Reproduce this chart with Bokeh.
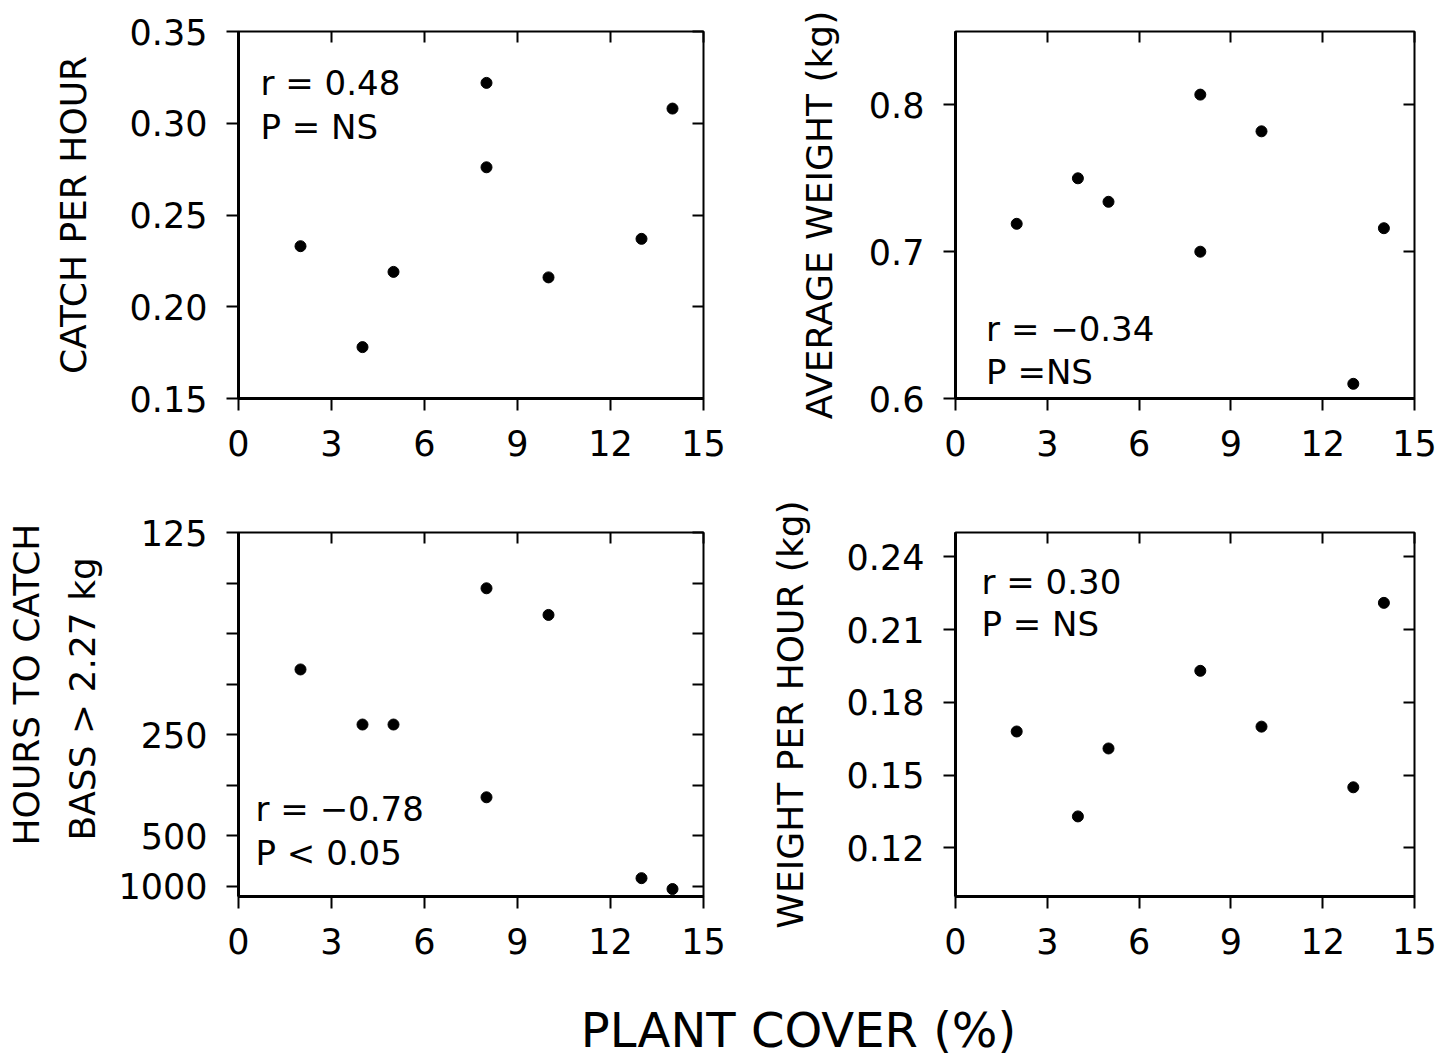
from bokeh.plotting import figure
from bokeh.models import FixedTicker, LinearAxis, Label, Range1d, NumeralTickFormatter, Title
from bokeh.layouts import column, row
from bokeh.embed import file_html
from bokeh.resources import INLINE

# ---- data ----
plant_cover = [2, 4, 5, 8, 8, 10, 13, 14]
catch_per_hour = [0.233, 0.178, 0.219, 0.322, 0.276, 0.216, 0.237, 0.308]
avg_weight_kg = [0.719, 0.750, 0.734, 0.807, 0.700, 0.782, 0.610, 0.716]
hours_to_catch = [189, 238, 238, 145, 362, 157, 860, 1055]
plant_cover_w = [2, 4, 5, 8, 10, 13, 14]
weight_per_hour = [0.168, 0.133, 0.161, 0.193, 0.170, 0.145, 0.221]

x_ticks = [0, 3, 6, 9, 12, 15]
catch_ticks = [0.15, 0.20, 0.25, 0.30, 0.35]
weight_ticks = [0.6, 0.7, 0.8]
wph_ticks = [0.12, 0.15, 0.18, 0.21, 0.24]
hours_tick_values = [125, 250, 500, 1000]

FONT = "DejaVu Sans"
TICK_FS = "35px"
LAB_FS = "36px"
ANN_FS = "34px"


def panel(width, height, bl, bt, br, bb, y_range, y_ticks, y_fmt=None, y_over=None,
          y_label="", label_standoff=26):
    p = figure(width=width, height=height, output_backend="svg", toolbar_location=None,
               x_range=Range1d(0, 15), y_range=Range1d(*y_range),
               min_border_left=bl, min_border_top=bt, min_border_right=br,
               min_border_bottom=bb)
    p.xgrid.visible = False
    p.ygrid.visible = False
    p.outline_line_color = "black"
    p.outline_line_width = 2
    p.background_fill_color = "white"
    p.border_fill_color = "white"

    xa = p.below[0]
    ya = p.left[0]
    xa.ticker = FixedTicker(ticks=x_ticks)
    xa.formatter = NumeralTickFormatter(format="0")
    ya.ticker = FixedTicker(ticks=y_ticks)
    if y_fmt is not None:
        ya.formatter = NumeralTickFormatter(format=y_fmt)
    if y_over is not None:
        ya.major_label_overrides = y_over
    for ax in (xa, ya):
        ax.axis_line_color = "black"
        ax.axis_line_width = 3
        ax.major_tick_line_color = "black"
        ax.major_tick_line_width = 2
        ax.major_tick_in = 0
        ax.major_tick_out = 12
        ax.minor_tick_line_color = None
        ax.major_label_text_font = FONT
        ax.major_label_text_font_size = TICK_FS
        ax.major_label_text_color = "black"
        ax.major_label_standoff = 19
        ax.axis_label_text_font = FONT
        ax.axis_label_text_font_size = LAB_FS
        ax.axis_label_text_font_style = "normal"
        ax.axis_label_text_color = "black"
    if y_label:
        ya.axis_label = y_label
        ya.axis_label_standoff = label_standoff

    top = LinearAxis(ticker=FixedTicker(ticks=x_ticks))
    right = LinearAxis(ticker=FixedTicker(ticks=y_ticks))
    for ax in (top, right):
        ax.axis_line_color = None
        ax.major_tick_line_color = "black"
        ax.major_tick_line_width = 2
        ax.major_tick_in = 11
        ax.major_tick_out = 0
        ax.minor_tick_line_color = None
        ax.major_label_text_font_size = "1px"
        ax.major_label_text_color = None
        ax.major_label_standoff = 0
    p.add_layout(top, "above")
    p.add_layout(right, "right")
    return p


def ann(p, x, y, text):
    p.add_layout(Label(x=x, y=y, text=text, text_font=FONT, text_font_size=ANN_FS,
                       text_align="left", text_baseline="alphabetic", text_color="black"))


# ---- top-left: catch per hour ----
pA = panel(740, 470, 238, 29, 37, 72, (0.15, 0.35), catch_ticks, y_fmt="0.00",
           y_label="CATCH PER HOUR", label_standoff=33)
pA.scatter(plant_cover, catch_per_hour, size=11, color="black")
ann(pA, 0.71, 0.3218, "r = 0.48")
ann(pA, 0.71, 0.298, "P = NS")

# ---- top-right: average weight ----
pB = panel(714, 470, 215, 31, 40, 70, (0.6, 0.85), weight_ticks, y_fmt="0.0",
           y_label="AVERAGE WEIGHT (kg)", label_standoff=26)
pB.scatter(plant_cover, avg_weight_kg, size=11, color="black")
ann(pB, 1.0, 0.6475, "r = \u22120.34")
ann(pB, 1.0, 0.6183, "P =NS")

# ---- bottom-left: hours to catch (reciprocal scale: catches per 1000 h) ----
rate_ticks = [1, 2, 3, 4, 5, 6, 7, 8]
overrides = {t: "" for t in rate_ticks}
for h in hours_tick_values:
    overrides[int(round(1000 / h))] = str(h)
pC = panel(740, 505, 238, 62, 37, 73, (0.8, 8.0), rate_ticks, y_over=overrides)
rate = [1000.0 / h for h in hours_to_catch]
pC.scatter(plant_cover, rate, size=11, color="black")
ann(pC, 0.55, 2.526, "r = \u22120.78")
ann(pC, 0.55, 1.668, "P < 0.05")
# two-line y label (side titles, read bottom to top)
pC.add_layout(Title(text="BASS > 2.27 kg", align="left", offset=56, standoff=26,
                    text_font=FONT, text_font_size=LAB_FS, text_font_style="normal",
                    text_color="black"), "left")
pC.add_layout(Title(text="HOURS TO CATCH", align="left", offset=51, standoff=0,
                    text_font=FONT, text_font_size=LAB_FS, text_font_style="normal",
                    text_color="black"), "left")

# ---- bottom-right: weight per hour ----
pD = panel(714, 505, 215, 55, 40, 79, (0.10, 0.25), wph_ticks, y_fmt="0.00",
           y_label="WEIGHT PER HOUR (kg)", label_standoff=33)
pD.scatter(plant_cover_w, weight_per_hour, size=11, color="black")
ann(pD, 0.85, 0.2298, "r = 0.30")
ann(pD, 0.85, 0.2124, "P = NS")

# ---- common x label ----
pE = figure(width=1454, height=83, output_backend="svg", toolbar_location=None,
            x_range=Range1d(0, 1454), y_range=Range1d(0, 83),
            x_axis_location=None, y_axis_location=None, min_border=0)
pE.xgrid.visible = False
pE.ygrid.visible = False
pE.outline_line_color = None
pE.add_layout(Label(x=798, y=29, text="PLANT COVER (%)", text_font=FONT,
                    text_font_size="48px", text_align="center", text_baseline="middle",
                    text_color="black"))

layout = column(row(pA, pB), row(pC, pD), pE)
open("out.html", "w").write(file_html(layout, INLINE))
